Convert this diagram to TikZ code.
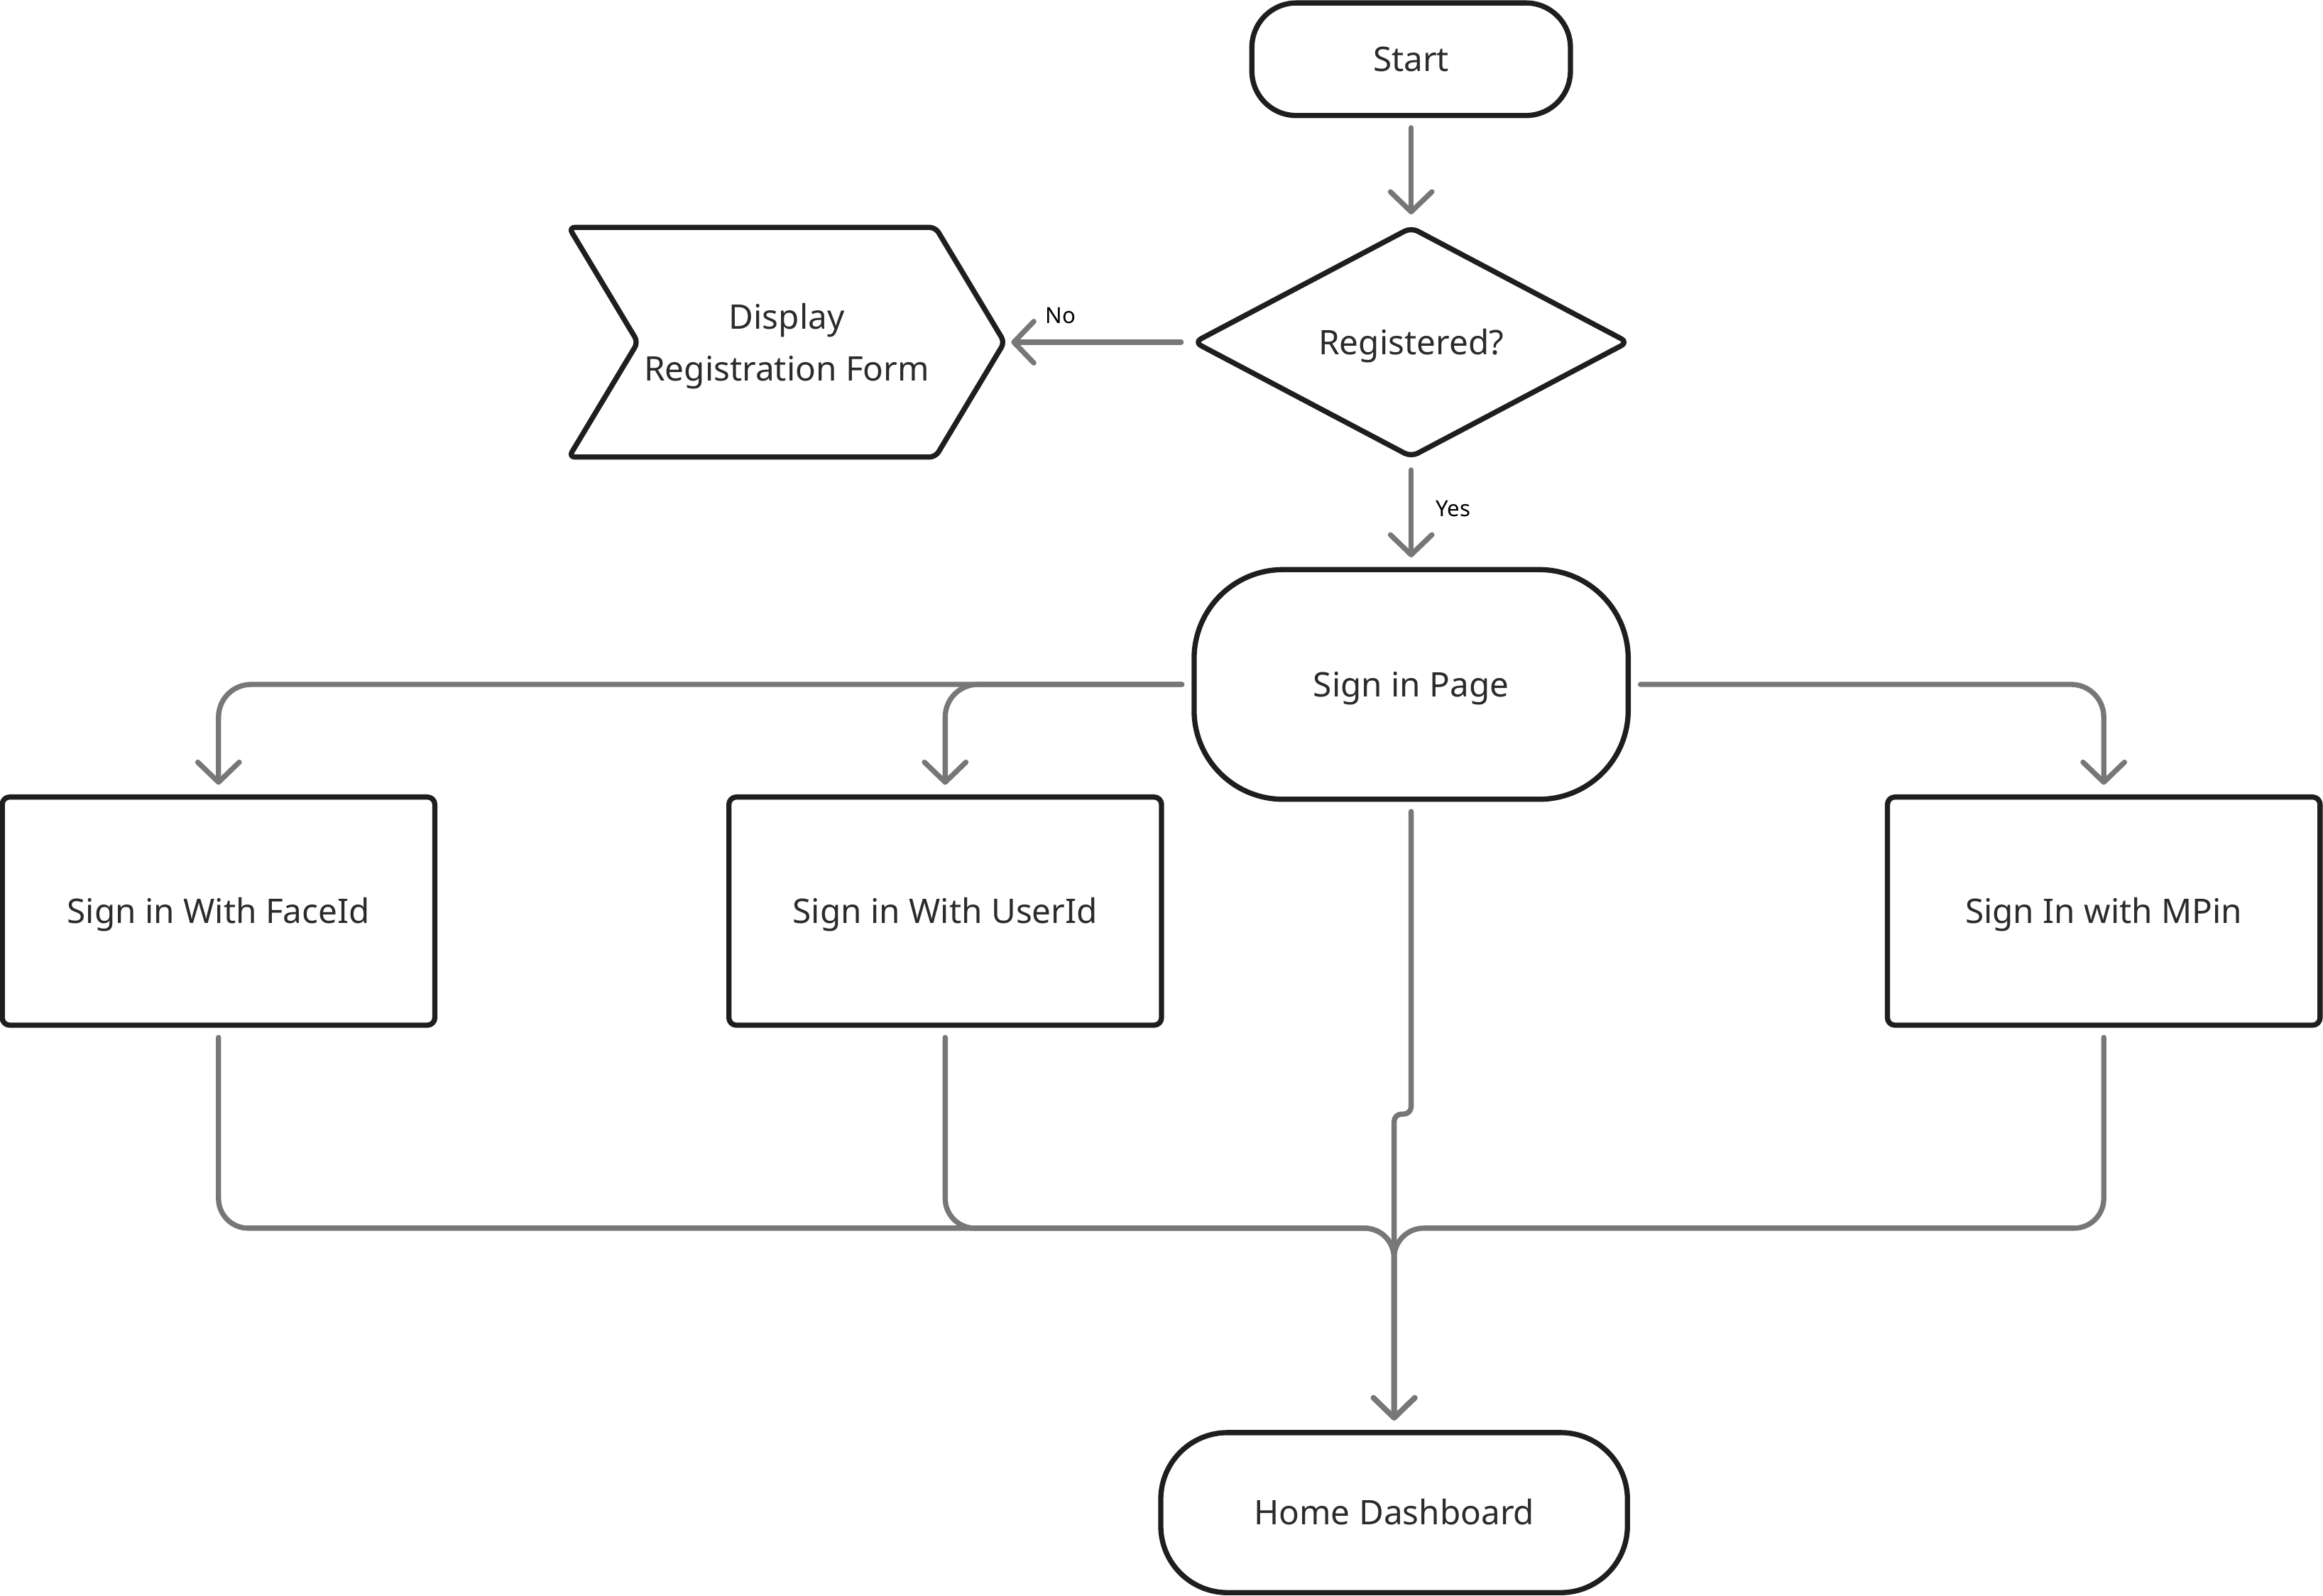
\documentclass[tikz,border=0pt]{standalone}
\usepackage{fontspec}
\setmainfont{Noto Sans}
\usetikzlibrary{shapes.geometric, shapes.symbols, arrows.meta}
\definecolor{edgegray}{HTML}{777777}
\definecolor{boxblack}{HTML}{1E1E1E}
\definecolor{textgray}{HTML}{2B2B2B}

\begin{document}
\begin{tikzpicture}[line cap=round, line join=round,
    >={Straight Barb[length=0.27cm,width=0.56cm,round]},
    box/.style={draw=boxblack, line width=2pt, text=textgray, align=center,
        font=\fontsize{13}{20}\selectfont},
    oneline/.style={box, text height=12.5pt, text depth=3.2pt},
    flow/.style={draw=edgegray, line width=2pt, ->, shorten <=0.13cm, shorten >=0.13cm},
    lbl/.style={font=\fontsize{8.5}{10}\selectfont, text=black, inner sep=0pt}]
    % page size
    \useasboundingbox (0,0) rectangle (31.36,21.54);

    %Start
    \node[oneline, rounded corners=0.6cm, minimum width=4.3cm, minimum height=1.52cm] (start) at (19.05,20.74) {Start};

    %Registered question
    \node[oneline, diamond, aspect=1.9, minimum width=5.88cm, minimum height=3.12cm, rounded corners=0.1cm] (reg) at (19.05,16.92) {Registered?};

    %Registration form
    \node[box, signal, signal to=east, signal from=west, signal pointer angle=118, text depth=0pt, inner xsep=0pt,
        minimum width=5.88cm, minimum height=3.1cm, rounded corners=0.08cm] (form) at (10.62,16.92) {Display\\Registration Form};

    %Sign in page
    \node[oneline, rounded corners=1.2cm, minimum width=5.86cm, minimum height=3.1cm] (signin) at (19.05,12.3) {Sign in Page};

    %sign in options
    \node[oneline, rounded corners=0.1cm, minimum width=5.84cm, minimum height=3.08cm] (faceid) at (2.95,9.24) {Sign in With FaceId};
    \node[oneline, rounded corners=0.1cm, minimum width=5.84cm, minimum height=3.08cm] (userid) at (12.76,9.24) {Sign in With UserId};
    \node[oneline, rounded corners=0.1cm, minimum width=5.84cm, minimum height=3.08cm] (mpin) at (28.4,9.24) {Sign In with MPin};

    %Home
    \node[oneline, rounded corners=0.9cm, minimum width=6.3cm, minimum height=2.16cm] (home) at (18.82,1.12) {Home Dashboard};

    % bends of the lines into home
    \coordinate (jog) at (18.82,6.5);
    \coordinate (merge) at (18.82,4.96);

    % top part
    \draw[flow] (start.south) -- (reg.north);
    \draw[flow, shorten >=0.05cm] (reg.west) -- (form.east) node[lbl, pos=0.71, above=0.22cm] {No};
    \draw[flow] (reg.south) -- (signin.north) node[lbl, pos=0.45, right=0.3cm] {Yes};

    % branches to the options
    \draw[flow, rounded corners=0.44cm] (signin.west) -| (faceid.north);
    \draw[flow, rounded corners=0.44cm] (signin.west) -| (userid.north);
    \draw[flow, rounded corners=0.44cm] (signin.east) -| (mpin.north);

    % all lines meet above home
    \draw[flow, rounded corners=0.4cm] (faceid.south) |- (merge) -- (home.north);
    \draw[flow, rounded corners=0.4cm] (userid.south) |- (merge) -- (home.north);
    \draw[flow, rounded corners=0.4cm] (mpin.south) |- (merge) -- (home.north);
    \draw[flow, rounded corners=0.1cm] (signin.south) |- (jog) -- (home.north);
\end{tikzpicture}
\end{document}
